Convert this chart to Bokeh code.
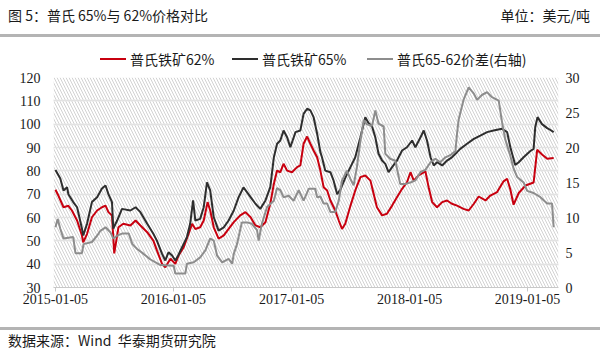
import datetime as dt
from bokeh.plotting import figure
from bokeh.layouts import column
from bokeh.models import (Range1d, LinearAxis, FixedTicker, DatetimeTickFormatter,
                          BoxAnnotation, ColumnDataSource, Div)
from bokeh.embed import file_html
from bokeh.resources import INLINE

# ---------------- texts ----------------
title_text = "图 5：普氏 65%与 62%价格对比"
unit_text = "单位：美元/吨"
source_text = "数据来源：Wind  华泰期货研究院"
series_names = ["普氏铁矿62%", "普氏铁矿65%", "普氏65-62价差(右轴)"]

# ---------------- axes ----------------
x_tick_labels = ["2015-01-05", "2016-01-05", "2017-01-05", "2018-01-05", "2019-01-05"]
x_axis_start = "2014-12-30"
x_axis_end = "2019-04-11"
left_ticks = [30, 40, 50, 60, 70, 80, 90, 100, 110, 120]
right_ticks = [0, 5, 10, 15, 20, 25, 30]

# ---------------- data: Platts 65% ----------------
dates_65 = [
    "2015-01-05", "2015-01-20", "2015-01-30", "2015-02-10", "2015-02-14", "2015-03-01",
    "2015-03-13", "2015-03-28", "2015-04-01", "2015-04-13", "2015-04-28", "2015-05-14",
    "2015-05-29", "2015-06-09", "2015-06-18", "2015-06-29", "2015-07-03", "2015-07-15",
    "2015-07-30", "2015-08-25", "2015-09-10", "2015-09-25", "2015-10-16", "2015-11-04",
    "2015-11-15", "2015-12-01", "2015-12-11", "2015-12-21", "2016-01-01", "2016-01-11",
    "2016-01-20", "2016-02-01", "2016-02-16", "2016-02-26", "2016-03-06", "2016-03-13",
    "2016-03-28", "2016-04-08", "2016-04-18", "2016-04-28", "2016-05-09", "2016-05-24",
    "2016-06-09", "2016-06-24", "2016-07-10", "2016-07-25", "2016-08-09", "2016-08-31",
    "2016-09-15", "2016-09-30", "2016-10-16", "2016-10-31", "2016-11-11", "2016-11-21",
    "2016-12-01", "2016-12-11", "2016-12-22", "2017-01-01", "2017-01-17", "2017-02-01",
    "2017-02-11", "2017-02-22", "2017-03-04", "2017-03-14", "2017-03-25", "2017-04-04",
    "2017-04-09", "2017-04-19", "2017-05-05", "2017-05-15", "2017-05-26", "2017-06-05",
    "2017-06-20", "2017-07-06", "2017-07-21", "2017-08-06", "2017-08-21", "2017-08-31",
    "2017-09-11", "2017-09-21", "2017-10-01", "2017-10-12", "2017-10-22", "2017-11-01",
    "2017-11-12", "2017-11-27", "2017-12-13", "2017-12-28", "2018-01-13", "2018-01-23",
    "2018-02-08", "2018-02-18", "2018-02-28", "2018-03-11", "2018-03-21", "2018-03-31",
    "2018-04-16", "2018-05-01", "2018-05-16", "2018-06-01", "2018-06-11", "2018-07-02",
    "2018-07-23", "2018-08-12", "2018-09-02", "2018-09-22", "2018-10-18", "2018-11-03",
    "2018-11-13", "2018-11-28", "2018-12-09", "2018-12-24", "2019-01-14", "2019-01-24",
    "2019-01-29", "2019-02-05", "2019-02-19", "2019-03-07", "2019-03-17", "2019-03-27",
]
price_65 = [
    80.4, 76.7, 71.6, 73.0, 70.0, 66.6,
    64.4, 55.3, 52.3, 57.4, 66.6, 68.7,
    72.4, 73.7, 70.0, 66.6, 55.3, 58.7,
    63.7, 63.0, 64.4, 62.3, 57.3, 53.0,
    50.1, 44.4, 41.6, 45.1, 43.7, 41.6,
    43.7, 47.3, 51.6, 57.3, 67.3, 58.7,
    59.4, 64.4, 75.1, 71.6, 60.1, 54.4,
    55.8, 58.7, 63.0, 68.7, 72.9, 68.7,
    65.9, 63.7, 67.3, 73.0, 85.8, 91.6,
    93.0, 97.3, 94.4, 90.1, 96.6, 97.3,
    104.4, 106.6, 105.9, 103.0, 95.9, 88.0,
    85.8, 80.1, 79.4, 75.8, 70.0, 72.0,
    77.0, 81.6, 85.8, 94.4, 103.0, 100.5,
    99.0, 94.4, 87.3, 84.4, 83.0, 79.4,
    81.6, 84.4, 88.7, 90.1, 93.0, 90.1,
    94.4, 97.3, 93.0, 85.8, 82.3, 83.7,
    82.3, 84.4, 85.8, 88.0, 89.4, 91.6,
    93.7, 95.1, 96.6, 97.3, 98.0, 96.6,
    90.1, 82.5, 83.7, 85.8, 88.5, 89.4,
    98.7, 103.0, 100.0, 98.3, 97.5, 96.6,
]

# ---------------- data: Platts 62% ----------------
dates_62 = [
    "2015-01-05", "2015-01-14", "2015-01-30", "2015-02-14", "2015-02-25", "2015-03-13",
    "2015-03-28", "2015-04-01", "2015-04-13", "2015-04-28", "2015-05-14", "2015-05-29",
    "2015-06-09", "2015-06-18", "2015-06-29", "2015-07-06", "2015-07-19", "2015-08-03",
    "2015-08-25", "2015-09-10", "2015-09-25", "2015-10-16", "2015-11-04", "2015-11-15",
    "2015-12-01", "2015-12-11", "2015-12-27", "2016-01-11", "2016-01-21", "2016-02-06",
    "2016-02-21", "2016-03-03", "2016-03-13", "2016-03-28", "2016-04-08", "2016-04-20",
    "2016-04-28", "2016-05-09", "2016-05-24", "2016-06-09", "2016-06-24", "2016-07-10",
    "2016-07-30", "2016-08-15", "2016-08-31", "2016-09-15", "2016-09-30", "2016-10-16",
    "2016-10-31", "2016-11-11", "2016-11-21", "2016-12-01", "2016-12-11", "2016-12-22",
    "2017-01-06", "2017-01-22", "2017-02-01", "2017-02-11", "2017-02-22", "2017-03-04",
    "2017-03-14", "2017-03-25", "2017-04-04", "2017-04-14", "2017-04-25", "2017-05-05",
    "2017-05-20", "2017-05-31", "2017-06-10", "2017-06-20", "2017-07-06", "2017-07-21",
    "2017-08-06", "2017-08-21", "2017-09-06", "2017-09-16", "2017-09-26", "2017-10-12",
    "2017-10-27", "2017-11-12", "2017-11-27", "2017-12-13", "2017-12-28", "2018-01-08",
    "2018-01-18", "2018-02-02", "2018-02-23", "2018-03-05", "2018-03-16", "2018-03-31",
    "2018-04-16", "2018-05-01", "2018-05-16", "2018-06-01", "2018-06-21", "2018-07-07",
    "2018-07-23", "2018-08-07", "2018-08-28", "2018-09-12", "2018-10-03", "2018-10-23",
    "2018-11-03", "2018-11-13", "2018-11-23", "2018-12-09", "2018-12-30", "2019-01-24",
    "2019-02-04", "2019-02-19", "2019-03-07", "2019-03-27",
]
price_62 = [
    71.9, 69.4, 64.4, 65.0, 63.0, 58.7,
    52.3, 49.4, 53.0, 60.1, 63.0, 64.4,
    65.1, 62.3, 60.9, 44.6, 55.8, 57.3,
    56.6, 58.7, 56.6, 53.7, 50.1, 45.9,
    40.1, 38.7, 42.3, 40.1, 43.7, 47.3,
    53.0, 57.3, 55.1, 55.8, 58.7, 66.6,
    63.0, 55.8, 50.9, 52.3, 55.1, 58.0,
    60.9, 62.3, 60.1, 56.6, 55.8, 58.0,
    65.9, 74.4, 80.1, 79.4, 83.0, 80.1,
    79.4, 81.6, 82.3, 91.6, 94.7, 91.6,
    88.7, 85.8, 80.1, 73.0, 71.6, 67.3,
    63.0, 58.7, 55.1, 57.3, 65.0, 71.6,
    77.3, 78.0, 75.8, 70.1, 64.4, 60.9,
    61.6, 65.1, 68.7, 72.3, 75.1, 79.4,
    75.8, 78.0, 79.8, 73.0, 66.6, 64.4,
    66.6, 67.3, 65.9, 65.1, 63.7, 63.0,
    65.9, 69.0, 67.3, 69.4, 70.9, 75.5,
    76.6, 72.0, 65.5, 70.5, 73.7, 75.0,
    89.0, 87.0, 85.2, 85.5,
]

# ---------------- data: 65-62 spread (right axis) ----------------
dates_spread = [
    "2015-01-05", "2015-01-12", "2015-01-20", "2015-01-30", "2015-03-01", "2015-03-08",
    "2015-03-28", "2015-04-02", "2015-04-28", "2015-05-14", "2015-05-24", "2015-06-09",
    "2015-06-24", "2015-07-03", "2015-07-15", "2015-07-30", "2015-08-20", "2015-08-31",
    "2015-09-15", "2015-10-05", "2015-10-26", "2015-11-26", "2016-01-06", "2016-01-11",
    "2016-02-11", "2016-02-16", "2016-03-08", "2016-03-28", "2016-04-13", "2016-04-28",
    "2016-05-09", "2016-05-19", "2016-06-04", "2016-06-24", "2016-07-05", "2016-07-10",
    "2016-07-20", "2016-08-04", "2016-08-20", "2016-09-04", "2016-09-20", "2016-09-25",
    "2016-10-05", "2016-10-21", "2016-11-11", "2016-11-21", "2016-12-01", "2016-12-11",
    "2016-12-27", "2017-01-11", "2017-01-27", "2017-02-11", "2017-02-27", "2017-03-19",
    "2017-03-25", "2017-04-04", "2017-04-14", "2017-04-25", "2017-05-05", "2017-05-20",
    "2017-05-31", "2017-06-10", "2017-06-25", "2017-07-06", "2017-07-16", "2017-07-26",
    "2017-08-06", "2017-08-16", "2017-08-26", "2017-09-11", "2017-09-21", "2017-10-01",
    "2017-10-17", "2017-10-22", "2017-11-06", "2017-11-22", "2017-12-07", "2017-12-23",
    "2018-01-08", "2018-01-23", "2018-02-08", "2018-02-23", "2018-03-11", "2018-03-26",
    "2018-04-10", "2018-04-26", "2018-05-11", "2018-05-27", "2018-06-01", "2018-06-06",
    "2018-06-21", "2018-07-07", "2018-07-23", "2018-08-02", "2018-08-17", "2018-09-02",
    "2018-09-17", "2018-10-08", "2018-10-18", "2018-10-28", "2018-11-13", "2018-11-23",
    "2018-12-04", "2018-12-24", "2019-01-04", "2019-01-24", "2019-02-14", "2019-03-07",
    "2019-03-22", "2019-03-27",
]
spread = [
    8.6, 9.8, 8.4, 7.0, 7.2, 4.9,
    4.9, 6.2, 6.5, 7.4, 8.1, 8.6,
    7.9, 7.0, 7.4, 7.7, 7.7, 6.2,
    5.5, 4.8, 4.0, 3.2, 3.1, 2.0,
    2.0, 3.4, 3.6, 4.3, 5.3, 7.0,
    6.7, 4.6, 3.6, 4.1, 3.4, 4.8,
    6.2, 9.3, 9.3, 9.1, 8.2, 6.7,
    9.1, 11.5, 12.4, 14.2, 13.9, 12.9,
    13.1, 12.4, 13.9, 12.4, 14.1, 14.1,
    12.9, 13.0, 12.0, 12.0, 10.8, 10.8,
    12.4, 15.3, 16.7, 15.5, 14.6, 17.2,
    21.0, 23.9, 23.3, 23.1, 25.3, 23.4,
    23.0, 19.1, 18.4, 18.1, 14.8, 14.8,
    15.0, 15.3, 16.5, 16.8, 17.9, 18.4,
    17.9, 18.6, 18.9, 19.5, 22.0, 24.0,
    26.8, 28.6, 27.7, 26.8, 27.5, 27.9,
    27.2, 26.7, 23.7, 21.2, 18.8, 17.0,
    15.8, 15.0, 13.8, 13.5, 12.9, 12.0,
    12.0, 8.6,
]

# ---------------- style / layout ----------------
RED = "#c8000f"
DARK = "#2e2e2e"
GRAY = "#8d8d8d"
series_colors = [RED, DARK, GRAY]
RULE = "#b4b4b4"
W, H = 600, 351
HEAD_H = 70          # header strip: title, rule, legend
FOOT_H = 24          # footer strip: rule, source
FRAME_L, FRAME_R, FRAME_T, FRAME_B = 53, 558, 77, 287
NUM_FONT = "Liberation Serif"
CJK_FONT = "Noto Sans CJK SC"
TXT = "#1a1a1a"
LEGEND_X = [100, 232, 367]   # left edge of each legend swatch (px)


def to_dt(s):
    return dt.datetime.strptime(s, "%Y-%m-%d")


def to_ms(s):
    return (to_dt(s) - dt.datetime(1970, 1, 1)).total_seconds() * 1000.0


# ---------------- header (HTML strip: title, unit, rule, legend) ----------------
legend_html = "".join(
    f'<span style="position:absolute;left:{lx}px;top:49px;height:20px;white-space:pre;'
    f'display:flex;align-items:center;">'
    f'<span style="display:inline-block;width:26px;height:2px;background:{c};margin-right:4px;"></span>'
    f'<span style="line-height:20px;">{name}</span></span>'
    for lx, c, name in zip(LEGEND_X, series_colors, series_names)
)
head_html = (
    f'<div style="position:relative;width:{W}px;height:{HEAD_H}px;overflow:hidden;'
    f'font-family:\'{CJK_FONT}\';font-size:14px;color:{TXT};background:white;">'
    f'<span style="position:absolute;left:8px;top:5px;line-height:20px;white-space:pre;">{title_text}</span>'
    f'<span style="position:absolute;right:10px;top:5px;line-height:20px;white-space:pre;">{unit_text}</span>'
    f'<div style="position:absolute;left:0;top:34px;width:{W}px;height:3px;background:{RULE};"></div>'
    f'{legend_html}'
    f'</div>'
)
head = Div(text=head_html, width=W, height=HEAD_H, margin=0)

# ---------------- main chart ----------------
MAIN_H = H - HEAD_H - FOOT_H
p = figure(width=W, height=MAIN_H, x_axis_type="datetime",
           x_range=Range1d(to_dt(x_axis_start), to_dt(x_axis_end)),
           y_range=Range1d(left_ticks[0], left_ticks[-1]),
           output_backend="svg", toolbar_location=None, title=None,
           min_border_left=FRAME_L, min_border_right=W - FRAME_R,
           min_border_top=FRAME_T - HEAD_H, min_border_bottom=(H - FOOT_H) - FRAME_B)
p.extra_y_ranges = {"right": Range1d(right_ticks[0], right_ticks[-1])}
p.outline_line_color = None
p.background_fill_color = "white"
p.border_fill_color = "white"

# hatched plot background
p.add_layout(BoxAnnotation(fill_alpha=0, line_color=None, hatch_pattern="\\",
                           hatch_color="#d2d2d2", hatch_scale=6, hatch_weight=1,
                           level="image"))

p.xgrid.visible = False
p.ygrid.grid_line_color = "#e2e2e2"
p.ygrid.grid_line_width = 1.5

xa = p.xaxis[0]
xa.ticker = FixedTicker(ticks=[to_ms(s) for s in x_tick_labels])
fmt = "%Y-%m-%d"
xa.formatter = DatetimeTickFormatter(milliseconds=fmt, seconds=fmt, minsec=fmt, minutes=fmt,
                                     hourmin=fmt, hours=fmt, days=fmt, months=fmt, years=fmt)
xa.axis_line_color = "#c8c8c8"
xa.major_tick_line_color = "#c8c8c8"
xa.major_tick_out = 4
xa.major_tick_in = 0
xa.minor_tick_line_color = None
xa.major_label_standoff = 2
xa.major_label_text_font = NUM_FONT
xa.major_label_text_font_size = "14px"
xa.major_label_text_color = TXT

ya = p.yaxis[0]
ya.ticker = FixedTicker(ticks=left_ticks)
ya.axis_line_color = None
ya.major_tick_line_color = None
ya.minor_tick_line_color = None
ya.major_tick_out = 0
ya.major_tick_in = 0
ya.major_label_standoff = 13
ya.major_label_text_font = NUM_FONT
ya.major_label_text_font_size = "14px"
ya.major_label_text_color = TXT

ra = LinearAxis(y_range_name="right", ticker=FixedTicker(ticks=right_ticks))
ra.axis_line_color = None
ra.major_tick_line_color = None
ra.minor_tick_line_color = None
ra.major_tick_out = 0
ra.major_tick_in = 0
ra.major_label_standoff = 7
ra.major_label_text_font = NUM_FONT
ra.major_label_text_font_size = "14px"
ra.major_label_text_color = TXT
p.add_layout(ra, "right")

s62 = ColumnDataSource(dict(x=[to_dt(s) for s in dates_62], y=price_62))
s65 = ColumnDataSource(dict(x=[to_dt(s) for s in dates_65], y=price_65))
ssp = ColumnDataSource(dict(x=[to_dt(s) for s in dates_spread], y=spread))
p.line("x", "y", source=s62, line_color=RED, line_width=2, name=series_names[0])
p.line("x", "y", source=s65, line_color=DARK, line_width=2, name=series_names[1])
p.line("x", "y", source=ssp, line_color=GRAY, line_width=2, y_range_name="right",
       name=series_names[2])

# ---------------- footer (HTML strip: rule, source) ----------------
foot_html = (
    f'<div style="position:relative;width:{W}px;height:{FOOT_H}px;overflow:hidden;'
    f'font-family:\'{CJK_FONT}\';font-size:14px;color:{TXT};background:white;">'
    f'<div style="position:absolute;left:0;top:0;width:{W}px;height:3px;background:{RULE};"></div>'
    f'<span style="position:absolute;left:8px;top:3px;line-height:20px;white-space:pre;">{source_text}</span>'
    f'</div>'
)
foot = Div(text=foot_html, width=W, height=FOOT_H, margin=0)

layout = column(head, p, foot, spacing=0)
open("out.html", "w").write(file_html(layout, INLINE))
